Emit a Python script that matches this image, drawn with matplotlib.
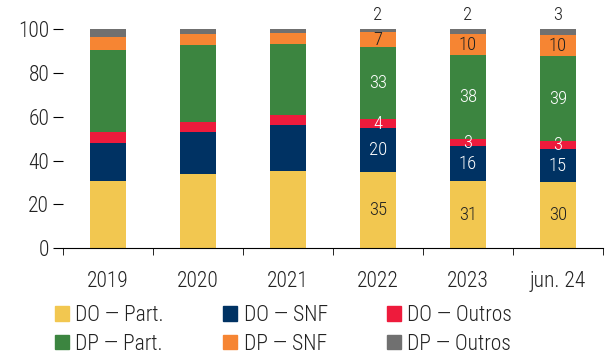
import matplotlib
matplotlib.use("Agg")
import matplotlib.pyplot as plt
from matplotlib.patches import Patch
import numpy as np

plt.rcParams['font.family'] = ['Roboto Condensed', 'Open Sans', 'DejaVu Sans']
plt.rcParams['font.weight'] = 'light'

categories = ["2019", "2020", "2021", "2022", "2023", "jun. 24"]
do_part = [30.7, 33.9, 35.2, 34.7, 30.7, 30.2]
do_snf = [17.2, 19.1, 21.0, 20.1, 15.9, 15.1]
do_outros = [5.1, 4.6, 4.6, 4.1, 3.2, 3.4]
dp_part = [37.4, 35.1, 32.4, 32.8, 38.3, 38.9]
dp_snf = [6.0, 5.2, 5.0, 6.7, 9.6, 9.6]
dp_outros = [3.6, 2.1, 1.8, 1.6, 2.3, 2.8]

series = [
    ("DO — Part.", do_part, "#F2C750", "#222222"),
    ("DO — SNF", do_snf, "#003263", "white"),
    ("DO — Outros", do_outros, "#EE1B3C", "white"),
    ("DP — Part.", dp_part, "#3C8540", "white"),
    ("DP — SNF", dp_snf, "#F68533", "#222222"),
    ("DP — Outros", dp_outros, "#707070", "#222222"),
]
labelled = [3, 4, 5]  # only the last three bars carry values

fig = plt.figure(figsize=(6.12, 3.57), dpi=100)
ax = fig.add_axes([0.103, 0.3045, 0.882, 0.6143])

x = np.arange(len(categories))
bottom = np.zeros(len(categories))
for name, vals, col, tcol in series:
    vals = np.array(vals)
    ax.bar(x, vals, 0.4, bottom=bottom, color=col, label=name, linewidth=0)
    for i in labelled:
        if name == "DP — Outros":
            ax.text(x[i], 102.5, "%d" % round(vals[i]), ha="center", va="bottom",
                    fontsize=13.5, color="#222222", clip_on=False)
        else:
            ax.text(x[i], bottom[i] + vals[i] / 2, "%d" % round(vals[i]),
                    ha="center", va="center", fontsize=13.5, color=tcol)
    bottom += vals

ax.set_xlim(-0.5, len(categories) - 0.5)
ax.set_ylim(0, 100)
ax.set_yticks(range(0, 101, 20))
ax.set_xticks(x)
ax.set_xticklabels(categories)
ax.set_xticks(np.arange(-0.5, len(categories)), minor=True)
ax.tick_params(axis="x", which="major", length=0, pad=16, labelsize=15.5, labelcolor="#222222")
ax.tick_params(axis="x", which="minor", length=5, direction="out")
ax.tick_params(axis="y", length=7, pad=3, labelsize=15.5, labelcolor="#222222")
for s in ["top", "right", "left"]:
    ax.spines[s].set_visible(False)

handles = [Patch(color=c, label=n) for n, v, c, t in series]
order = [0, 3, 1, 4, 2, 5]
fig.legend([handles[i] for i in order], [handles[i].get_label() for i in order],
           ncol=3, loc="lower left", bbox_to_anchor=(0.058, -0.048), frameon=False,
           fontsize=15.5, handlelength=0.65, handleheight=0.65, handletextpad=0.3,
           columnspacing=2.75, labelspacing=0.35, labelcolor="#222222")

fig.savefig("out.png", dpi=100)
